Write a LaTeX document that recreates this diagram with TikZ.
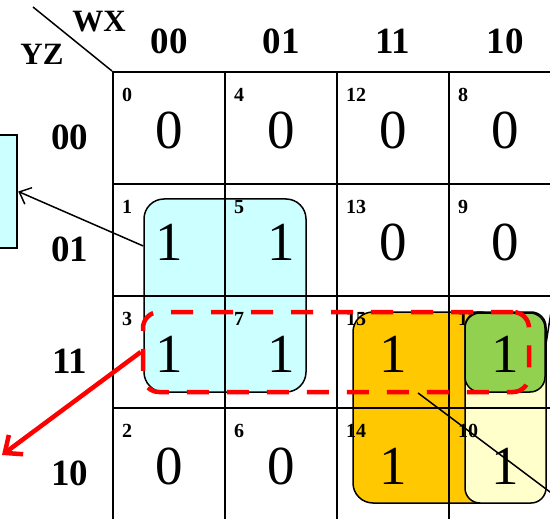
\documentclass[tikz,border=0pt]{standalone}
\usepackage{fontspec}
\setmainfont{Liberation Serif}
\usetikzlibrary{arrows.meta}
\definecolor{cyanfill}{HTML}{CCFFFF}
\definecolor{orangefill}{HTML}{FFC800}
\definecolor{yellowfill}{HTML}{FFFFCC}
\definecolor{greenfill}{HTML}{92D050}
\definecolor{redline}{HTML}{FF0000}
\tikzset{
  cellbox/.style={draw, line width=2pt, minimum width=112pt, minimum height=112pt, inner sep=0pt},
  varlabel/.style={font=\fontsize{31}{31}\selectfont\bfseries, inner sep=0pt},
  headlabel/.style={font=\fontsize{37}{37}\selectfont\bfseries, inner sep=0pt},
  cellnum/.style={font=\fontsize{20}{20}\selectfont\bfseries, inner sep=0pt, anchor=west},
  cellval/.style={font=\fontsize{55}{55}\selectfont, inner sep=0pt},
  groupbox/.style={draw, line width=1.5pt, rounded corners=20pt},
  reddash/.style={draw=redline, line width=4.5pt, rounded corners=16pt, dash pattern=on 22pt off 18pt},
}
\begin{document}
\begin{tikzpicture}[x=1pt,y=-1pt]
\useasboundingbox (0,0) rectangle (550,519);
% group boxes below the grid
\node[groupbox, fill=cyanfill, minimum width=162pt, minimum height=193pt, inner sep=0pt] (cyanbox) at (225,295.5) {};
\node[groupbox, fill=orangefill, minimum width=147pt, minimum height=191pt, inner sep=0pt] (orangebox) at (426.5,407.5) {};
\node[groupbox, rounded corners=15pt, fill=yellowfill, minimum width=81pt, minimum height=191pt, inner sep=0pt] (yellowbox) at (505.5,407.5) {};
% left box
\node[draw, line width=2.5pt, fill=cyanfill, minimum width=22pt, minimum height=113pt, inner sep=0pt] (leftbox) at (6,191.5) {};
% grid
\foreach \i in {0,...,3}{
  \foreach \j in {0,...,3}{
    \node[cellbox] (c-\i-\j) at (169+112*\i,128+112*\j) {};
  }
}
% headers
\node[varlabel] (wx) at (99,22) {WX};
\node[varlabel] (yz) at (42,54) {YZ};
\coordinate (diagstart) at (33,7);
\draw[line width=1.5pt] (diagstart) -- (c-0-0.north west);
\foreach \t [count=\k from 0] in {00,01,11,10}{
  \node[headlabel] (col-\k) at (169+112*\k,41.5) {\t};
  \node[headlabel] (row-\k) at (70,137+112*\k) {\t};
}
% cell numbers: columns WX 00,01,11,10 ; rows YZ 00,01,11,10
\foreach \i/\cv in {0/0,1/4,2/12,3/8}{
  \foreach \j/\rv in {0/0,1/1,2/3,3/2}{
    \pgfmathtruncatemacro{\num}{\cv+\rv}
    \node[cellnum] (n-\i-\j) at (122+112*\i,95+112*\j) {\num};
  }
}
% green box above cell numbers
\node[groupbox, rounded corners=15pt, fill=greenfill, minimum width=80pt, minimum height=79pt, inner sep=0pt] (greenbox) at (505,352.5) {};
% values
\foreach \i/\j/\v in {0/0/0,1/0/0,2/0/0,3/0/0,
                      0/1/1,1/1/1,2/1/0,3/1/0,
                      0/2/1,1/2/1,2/2/1,3/2/1,
                      0/3/0,1/3/0,2/3/1,3/3/1}{
  \node[cellval] (v-\i-\j) at (169+112*\i,130+112*\j) {\v};
}
% red dashed group
\node[reddash, minimum width=386pt, minimum height=80pt, inner sep=0pt] (redbox) at (336,352) {};
% connectors
\draw[line width=1.5pt, -{Straight Barb[length=10pt,width=18pt]}] ([yshift=49.5pt]cyanbox.west) -- (leftbox.east);
\coordinate (redend) at (2,455);
\draw[redline, line width=4.5pt, -{Straight Barb[length=14pt,width=24pt]}] (redbox.west) -- (redend);
\coordinate (lineA) at (418,393);
\coordinate (lineB) at (552,493.5);
\draw[line width=1.5pt] (lineA) -- (lineB);
\coordinate (lineC) at (551,312);
\draw[line width=1.5pt] ([yshift=7pt]greenbox.east) -- (lineC);
\end{tikzpicture}
\end{document}
